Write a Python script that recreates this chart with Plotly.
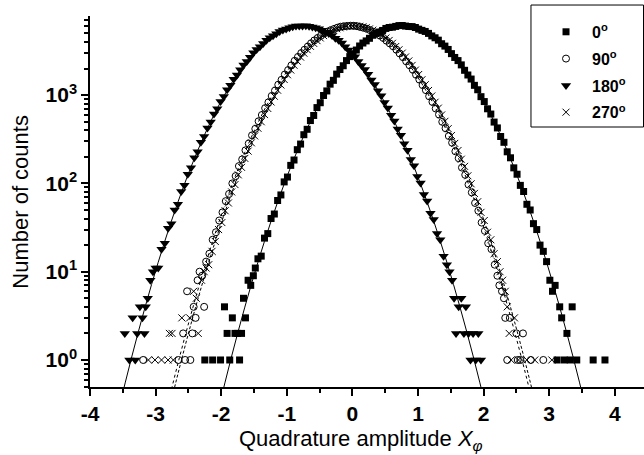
import plotly.graph_objects as go

# ---------------- data ----------------
# histogram bin positions relative to each series' centre
BIN_OFFSETS = [-2.20, -2.15, -2.10, -2.05, -2.00, -1.95, -1.90, -1.85, -1.80, -1.75,
               -1.70, -1.65, -1.60, -1.55, -1.50, -1.45, -1.40, -1.35, -1.30, -1.25,
               -1.20, -1.15, -1.10, -1.05, -1.00,
               -0.95, -0.90, -0.85, -0.80, -0.75, -0.70, -0.65, -0.60, -0.55, -0.50,
               -0.45, -0.40, -0.35, -0.30, -0.25, -0.20, -0.15, -0.10, -0.05, 0.00,
               0.05, 0.10, 0.15, 0.20, 0.25, 0.30, 0.35, 0.40, 0.45, 0.50,
               0.55, 0.60, 0.65, 0.70, 0.75, 0.80, 0.85, 0.90, 0.95,
               1.00, 1.05, 1.10, 1.15, 1.20, 1.25, 1.30, 1.35, 1.40, 1.45,
               1.50, 1.55, 1.60, 1.65, 1.70, 1.75, 1.80, 1.85, 1.90, 1.95,
               2.00, 2.05, 2.10, 2.15, 2.20]

CENTER_0 = 0.76
CENTER_90 = -0.03
CENTER_180 = -0.76
CENTER_270 = 0.01

counts_0 = [14, 15, 24, 27, 40, 45, 64, 74, 104, 118, 160, 184, 241, 279, 356, 410, 515, 588, 722, 820,
            990, 1115, 1330, 1470, 1730,
            1950, 2150, 2460, 2730, 2940, 3240, 3600, 3890, 4110, 4400, 4760, 5010, 5180, 5400, 5690, 5830, 5880,
            6000, 6130, 6140, 6050, 5990, 5970, 5830, 5590, 5410, 5260, 5000, 4680, 4460, 4190, 3820, 3590, 3290,
            2950, 2670, 2460, 2200, 1910,
            1690, 1520, 1290, 1150, 960, 845, 700, 610, 495, 425, 340, 292, 228, 195, 150, 127, 95, 81, 58, 50,
            35, 30, 20, 17, 13]
counts_90 = [13, 16, 23, 28, 38, 47, 63, 76, 100, 121, 157, 187, 237, 283, 350, 415, 506, 595, 712, 828,
             978, 1125, 1312, 1490, 1712,
             1920, 2168, 2445, 2705, 2990, 3262, 3545, 3862, 4165, 4430, 4698, 4982, 5240, 5432, 5610, 5802, 5950,
             6018, 6070, 6105, 6095, 6030, 5910, 5790, 5650, 5445, 5200, 4968, 4730, 4442, 4130, 3850, 3575, 3275,
             2965, 2692, 2415, 2180, 1945,
             1700, 1502, 1300, 1138, 970, 838, 705, 603, 498, 422, 344, 289, 231, 193, 151, 125, 97, 79, 60, 49,
             36, 29, 21, 18, 12]
counts_180 = [11, 18, 21, 31, 35, 50, 58, 81, 95, 127, 150, 195, 228, 292, 340, 425, 495, 610, 700, 845,
              962, 1148, 1290, 1515, 1690,
              1940, 2190, 2410, 2680, 3010, 3290, 3530, 3830, 4180, 4460, 4690, 4950, 5250, 5460, 5610, 5780, 5960,
              6050, 6060, 6080, 6110, 6040, 5900, 5810, 5660, 5420, 5190, 4990, 4740, 4410, 4170, 3880, 3540, 3250,
              3000, 2720, 2400, 2160, 1950,
              1720, 1480, 1320, 1120, 985, 825, 715, 592, 508, 414, 352, 281, 238, 186, 158, 120, 101, 75, 63, 46,
              39, 27, 23, 15, 12]
counts_270 = [12, 17, 22, 30, 36, 49, 60, 80, 97, 125, 152, 192, 232, 288, 345, 421, 499, 602, 706, 836,
              970, 1136, 1302, 1503, 1700,
              1925, 2178, 2420, 2694, 2985, 3272, 3570, 3852, 4140, 4440, 4725, 4970, 5205, 5444, 5645, 5790, 5915,
              6028, 6090, 6095, 6070, 6018, 5940, 5802, 5620, 5434, 5230, 4980, 4700, 4432, 4160, 3862, 3550, 3262,
              2990, 2704, 2440, 2170, 1920,
              1712, 1493, 1310, 1128, 978, 830, 712, 596, 505, 417, 349, 284, 236, 188, 156, 122, 99, 77, 62, 47,
              38, 28, 23, 16, 13]

# sparse tail points (absolute positions, integer counts)
tail_x_0 = [-2.25, -2.13, -2.01, -1.95, -1.91, -1.87, -1.83, -1.79, -1.75, -1.72, -1.69, -1.66, -1.63, -1.59, -1.55, -1.51, -1.48,
            3.01, 3.05, 3.09, 3.12, 3.16, 3.19, 3.23, 3.27, 3.32, 3.35, 3.42, 3.67, 3.85]
tail_y_0 = [1, 1, 1, 4, 2, 1, 3, 2, 2, 1, 2, 5, 3, 8, 7, 9, 11,
            8, 6, 7, 1, 4, 3, 1, 2, 1, 4, 1, 1, 1]
tail_x_90 = [-3.19, -2.65, -2.58, -2.55, -2.52, -2.47, -2.44, -2.42, -2.39, -2.36, -2.33, -2.29, -2.26,
             2.21, 2.24, 2.28, 2.31, 2.33, 2.36, 2.40, 2.50, 2.52, 2.56, 2.60, 2.72, 2.91]
tail_y_90 = [1, 1, 2, 1, 6, 1, 2, 4, 3, 8, 10, 9, 4,
             9, 7, 6, 5, 3, 1, 3, 2, 1, 1, 2, 1, 1]
tail_x_180 = [-3.47, -3.40, -3.35, -3.31, -3.28, -3.24, -3.20, -3.17, -3.15, -3.12, -3.08, -3.04, -3.00,
              1.48, 1.52, 1.55, 1.58, 1.62, 1.66, 1.70, 1.73, 1.77, 1.80, 1.84, 1.88, 1.92, 1.96]
tail_y_180 = [2, 1, 3, 1, 2, 4, 3, 2, 4, 5, 8, 10, 11,
              10, 8, 5, 2, 4, 5, 2, 4, 2, 1, 2, 1, 2, 1]
tail_x_270 = [-3.11, -3.01, -2.91, -2.81, -2.79, -2.75, -2.73, -2.60, -2.48, -2.42, -2.38, -2.35, -2.30, -2.26, -2.23,
              2.25, 2.29, 2.33, 2.36, 2.39, 2.42, 2.47, 2.53, 2.66, 2.78, 3.04]
tail_y_270 = [1, 1, 1, 1, 2, 2, 1, 3, 3, 6, 5, 2, 8, 10, 11,
              10, 8, 6, 4, 2, 1, 3, 1, 1, 1, 1]

# fitted curve (offset from centre, counts)
FIT_OFFSETS = [-3.0, -2.8, -2.6, -2.4, -2.2, -2.0, -1.8, -1.6, -1.4, -1.2, -1.0, -0.8, -0.6, -0.4, -0.2, 0.0,
               0.2, 0.4, 0.6, 0.8, 1.0, 1.2, 1.4, 1.6, 1.8, 2.0, 2.2, 2.4, 2.6, 2.8, 3.0]
FIT_COUNTS = [0.064, 0.28, 1.11, 3.97, 12.8, 37.3, 98.4, 234, 502, 974, 1706, 2699, 3857, 4975, 5797, 6100,
              5797, 4975, 3857, 2699, 1706, 974, 502, 234, 98.4, 37.3, 12.8, 3.97, 1.11, 0.28, 0.064]

LABELS = ["0<sup>o</sup>", "90<sup>o</sup>", "180<sup>o</sup>", "270<sup>o</sup>"]
X_TICKS = [-4, -3, -2, -1, 0, 1, 2, 3, 4]
X_TICK_TEXT = ["-4", "-3", "-2", "-1", "0", "1", "2", "3", "4"]
Y_TICKS = [1, 10, 100, 1000]
Y_TICK_TEXT = ["10<sup>0</sup>", "10<sup>1</sup>", "10<sup>2</sup>", "10<sup>3</sup>"]
Y_MINOR = [0.5, 0.6, 0.7, 0.8, 0.9, 2, 3, 4, 5, 6, 7, 8, 9, 20, 30, 40, 50, 60, 70, 80, 90,
           200, 300, 400, 500, 600, 700, 800, 900, 2000, 3000, 4000, 5000, 6000, 7000]

# ---------------- figure ----------------
FONT = "Liberation Sans, Arial, Helvetica, sans-serif"
fig = go.Figure()

series = [
    (CENTER_0, counts_0, tail_x_0, tail_y_0, dict(symbol="square", size=7, color="black"), "solid"),
    (CENTER_90, counts_90, tail_x_90, tail_y_90,
     dict(symbol="circle-open", size=7, color="black", line=dict(width=1, color="black")), "dot"),
    (CENTER_180, counts_180, tail_x_180, tail_y_180, dict(symbol="triangle-down", size=9, color="black"), "solid"),
    (CENTER_270, counts_270, tail_x_270, tail_y_270,
     dict(symbol="x-thin", size=7, color="black", line=dict(width=1, color="black")), "3px,2px"),
]

for i, ((c, counts, tx, ty, mk, dash), lab) in enumerate(zip(series, LABELS)):
    xs = [c + o for o in BIN_OFFSETS] + tx
    ys = counts + ty
    fig.add_trace(go.Scatter(x=xs, y=ys, mode="markers", marker=mk, name=lab, showlegend=True,
                             legendgroup=f"g{i}"))

for (c, counts, tx, ty, mk, dash), lab in zip(series, LABELS):
    fig.add_trace(go.Scatter(x=[c + o for o in FIT_OFFSETS], y=FIT_COUNTS, mode="lines",
                             line=dict(color="black", width=1, dash=dash, shape="spline", smoothing=1),
                             showlegend=False, hoverinfo="skip"))

# legend frame
fig.add_shape(type="rect", xref="paper", yref="paper", x0=0.7960, x1=0.9991, y0=0.7008, y1=1.0296,
              line=dict(color="black", width=1), fillcolor="rgba(0,0,0,0)")

# axis titles
fig.add_annotation(text="Number of counts", xref="paper", yref="paper", x=-0.126, y=0.50,
                   textangle=-90, showarrow=False, font=dict(family=FONT, size=22, color="black"),
                   xanchor="center", yanchor="middle")
fig.add_annotation(text="Quadrature amplitude <i>X</i><sub><i>φ</i></sub>", xref="paper", yref="paper",
                   x=0.489, y=-0.143, showarrow=False, font=dict(family=FONT, size=22, color="black"),
                   xanchor="center", yanchor="middle")

fig.update_layout(
    width=644, height=455,
    margin=dict(l=90, r=0, t=16, b=68, autoexpand=False),
    paper_bgcolor="white", plot_bgcolor="white",
    showlegend=True,
    legend=dict(x=0.8123, y=1.003, xanchor="left", yanchor="top", bgcolor="rgba(0,0,0,0)",
                borderwidth=0, font=dict(family=FONT, size=16, color="black", weight="bold"),
                traceorder="grouped", tracegroupgap=3, itemwidth=42),
    xaxis=dict(range=[-4, 4.445], showgrid=False, zeroline=False, showline=True, linecolor="black",
               linewidth=1.5, ticks="outside", ticklen=7, tickwidth=1.5, tickcolor="black",
               tickmode="array", tickvals=X_TICKS, ticktext=X_TICK_TEXT,
               tickfont=dict(family=FONT, size=21, color="black", weight="bold"),
               minor=dict(ticks="outside", ticklen=4, tickwidth=1.5, tickcolor="black", dtick=0.5, showgrid=False)),
    yaxis=dict(type="log", range=[-0.306, 3.896], showgrid=False, zeroline=False, showline=True,
               linecolor="black", linewidth=1.5, ticks="outside", ticklen=7, tickwidth=1.5, tickcolor="black",
               tickmode="array", tickvals=Y_TICKS, ticktext=Y_TICK_TEXT,
               tickfont=dict(family=FONT, size=21, color="black", weight="bold"),
               minor=dict(ticks="outside", ticklen=4, tickwidth=1.5, tickcolor="black",
                          tickmode="array", tickvals=Y_MINOR, showgrid=False)),
)

fig.write_html("out.html", config={"displayModeBar": False},
               post_script="document.body.style.margin='0';document.body.style.overflow='hidden';")
